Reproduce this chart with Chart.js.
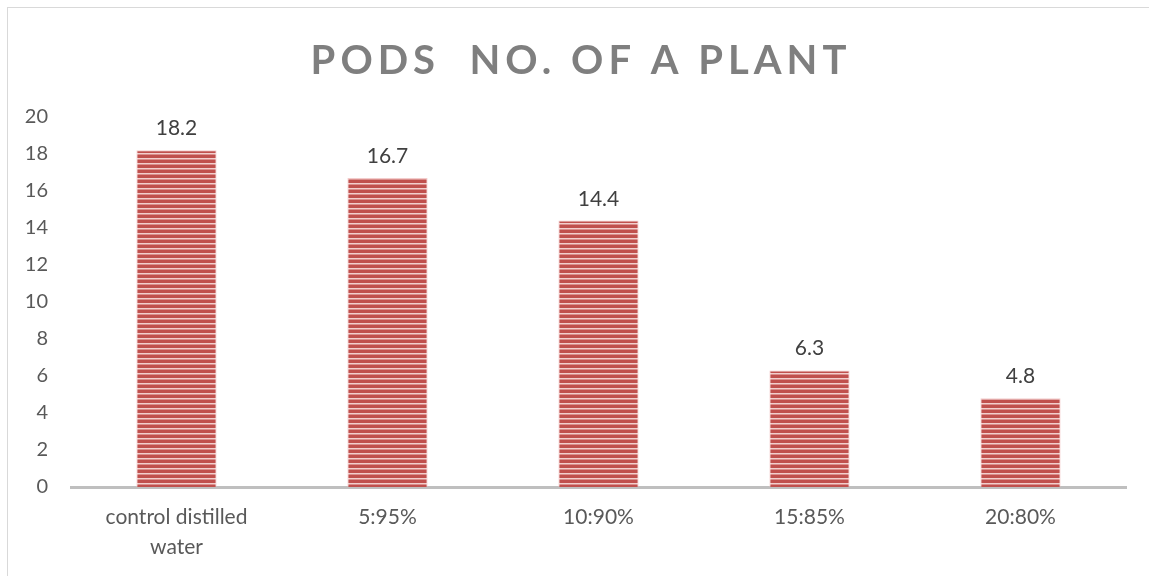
<!DOCTYPE html>
<html>
<head>
<meta charset="utf-8">
<script src="https://cdn.jsdelivr.net/npm/chart.js@4/dist/chart.umd.min.js"></script>
<style>
  html, body { margin: 0; padding: 0; background: #fff; overflow: hidden; }
  #wrap { position: relative; width: 1149px; height: 576px; }
  #frame { position: absolute; left: 7px; top: 7px; width: 1200px; height: 620px; border: 1px solid #d9d9d9; box-sizing: border-box; }
  canvas { position: absolute; left: 0; top: 0; }
</style>
</head>
<body>
<div id="wrap">
  <div id="frame"></div>
  <canvas id="c" width="1149" height="576"></canvas>
</div>
<script>
// Treatments (extract : distilled water) and pods per plant
const categories = [['control distilled', 'water'], '5:95%', '10:90%', '15:85%', '20:80%'];
const podsPerPlant = [18.2, 16.7, 14.4, 6.3, 4.8];
const yTicks = [0, 2, 4, 6, 8, 10, 12, 14, 16, 18, 20];
const chartTitle = 'PODS  NO. OF A PLANT';

const FONT = 'Lato, "Liberation Sans", sans-serif';

// Horizontal stripe fill for the bars
function stripePattern(ctx) {
  const p = document.createElement('canvas');
  p.width = 4; p.height = 5;
  const g = p.getContext('2d');
  g.fillStyle = '#c0504d'; g.fillRect(0, 0, 4, 5);
  g.fillStyle = '#f2cfcd'; g.fillRect(0, 3, 4, 1);
  g.fillStyle = '#da8f8d'; g.fillRect(0, 4, 4, 1);
  return ctx.createPattern(p, 'repeat');
}

const canvas = document.getElementById('c');
const ctx = canvas.getContext('2d');

const titlePlugin = {
  id: 'spacedTitle',
  afterDraw(chart) {
    const c = chart.ctx;
    c.save();
    c.font = 'bold 40px ' + FONT;
    c.fillStyle = '#7f7f7f';
    c.textAlign = 'center';
    c.textBaseline = 'alphabetic';
    c.letterSpacing = '5px';
    c.fillText(chartTitle, 581, 74);
    c.restore();
  }
};

const valueLabels = {
  id: 'valueLabels',
  afterDatasetsDraw(chart) {
    const c = chart.ctx;
    const meta = chart.getDatasetMeta(0);
    c.save();
    c.font = '21px ' + FONT;
    c.fillStyle = '#404040';
    c.textAlign = 'center';
    c.textBaseline = 'alphabetic';
    meta.data.forEach((bar, i) => {
      c.fillText(String(podsPerPlant[i]), bar.x, bar.y - 15);
    });
    c.restore();
  }
};

new Chart(ctx, {
  type: 'bar',
  data: {
    labels: categories,
    datasets: [{
      data: podsPerPlant,
      backgroundColor: stripePattern(ctx),
      borderColor: 'rgba(240,190,190,0.8)',
      borderWidth: 1,
      borderSkipped: 'bottom',
      categoryPercentage: 1,
      barPercentage: 0.38
    }]
  },
  options: {
    responsive: false,
    animation: false,
    layout: { padding: { left: 0, top: 117, right: 23, bottom: 0 } },
    plugins: {
      legend: { display: false },
      title: { display: false },
      tooltip: { enabled: false }
    },
    scales: {
      x: {
        grid: { display: false, drawTicks: false },
        border: { display: true, color: '#bfbfbf', width: 3 },
        ticks: { color: '#595959', font: { family: FONT, size: 21, lineHeight: 1.4 }, padding: 16, maxRotation: 0, autoSkip: false },
        afterFit(s) { s.height = 89; }
      },
      y: {
        min: 0, max: 20,
        grid: { display: false, drawTicks: false },
        border: { display: false },
        afterBuildTicks(s) { s.ticks = yTicks.map(v => ({ value: v })); },
        ticks: { color: '#595959', font: { family: FONT, size: 20 }, padding: 23 },
        afterFit(s) { s.width = 71; }
      }
    }
  },
  plugins: [titlePlugin, valueLabels]
});
</script>
</body>
</html>
